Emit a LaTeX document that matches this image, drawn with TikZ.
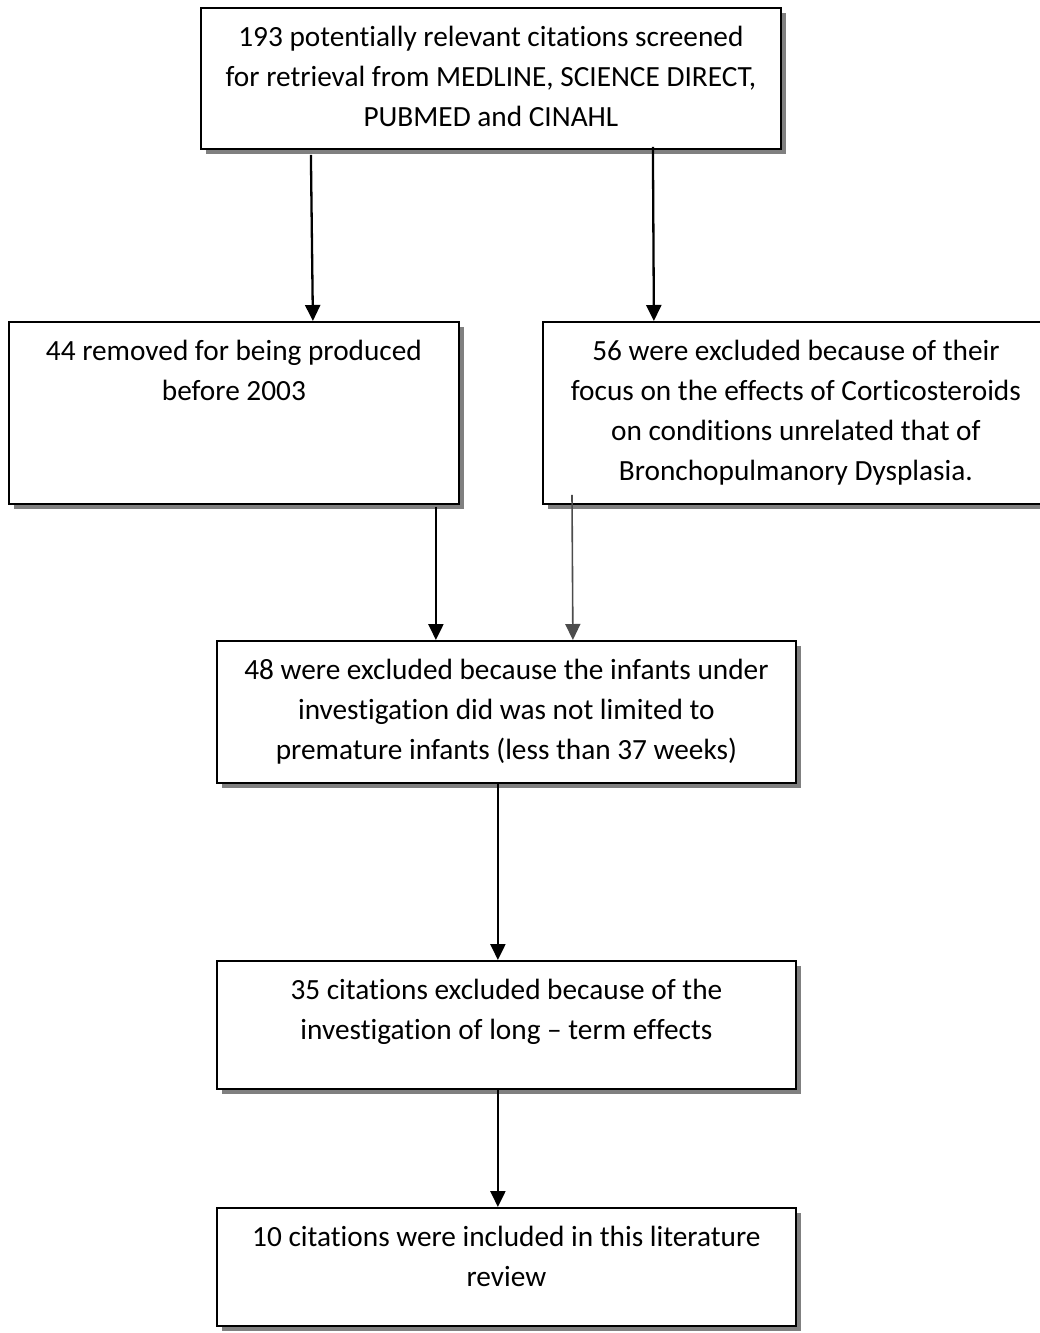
\documentclass[tikz,border=0pt]{standalone}
\usepackage{fontspec}
\setmainfont{Carlito}[Ligatures={TeX,NoCommon}]
\usetikzlibrary{arrows.meta,shadows}
\tikzset{
  flowbox/.style={draw, line width=1.8pt, fill=white, inner sep=0pt, anchor=north west,
    drop shadow={shadow xshift=5pt, shadow yshift=-5pt, fill=black!50, opacity=1}},
  flowarrow/.style={line width=2.3pt, -{Triangle[length=16pt,width=15pt]}}
}
\newcommand{\boxtext}[3]{\parbox[t][#2][t]{#1}{\centering\vspace*{11pt}\strut #3}}
\begin{document}
\begin{tikzpicture}[x=1pt, y=-1pt, font={\fontsize{29.3}{40}\selectfont}]
  \useasboundingbox (0,0) rectangle (1039,1333);
  \node[flowbox] (search) at (200,7) {\boxtext{580pt}{141pt}{193 potentially relevant citations screened\\for retrieval from MEDLINE, SCIENCE DIRECT,\\PUBMED and CINAHL}};
  \node[flowbox] (date) at (8,321) {\boxtext{450pt}{182pt}{44 removed for being produced\\before 2003}};
  \node[flowbox] (focus) at (542,321) {\boxtext{506pt}{182pt}{56 were excluded because of their\\focus on the effects of Corticosteroids\\on conditions unrelated that of\\Bronchopulmanory Dysplasia.}};
  \node[flowbox] (infants) at (216,640) {\boxtext{579pt}{142pt}{48 were excluded because the infants under\\investigation did was not limited to\\premature infants (less than 37 weeks)}};
  \node[flowbox] (longterm) at (216,960) {\boxtext{579pt}{128pt}{35 citations excluded because of the\\investigation of long -- term effects}};
  \node[flowbox] (included) at (216,1207) {\boxtext{579pt}{118pt}{10 citations were included in this literature\\review}};
  % arrows between the stages
  \draw[flowarrow] ([shift={(-180,5)}]search.south) -- ([xshift=79pt]date.north);
  \draw[flowarrow] ([shift={(162,-3)}]search.south) -- ([xshift=-142pt]focus.north);
  \draw[flowarrow] ([shift={(202,2)}]date.south) -- ([xshift=-70.5pt]infants.north);
  \draw[flowarrow, draw=black!70, line width=1.6pt] ([shift={(30,-10)}]focus.south west) -- ([xshift=66.5pt]infants.north);
  \draw[flowarrow] ([xshift=-8.5pt]infants.south) -- ([xshift=-8.5pt]longterm.north);
  \draw[flowarrow] ([xshift=-8.5pt]longterm.south) -- ([xshift=-8.5pt]included.north);
\end{tikzpicture}
\end{document}
